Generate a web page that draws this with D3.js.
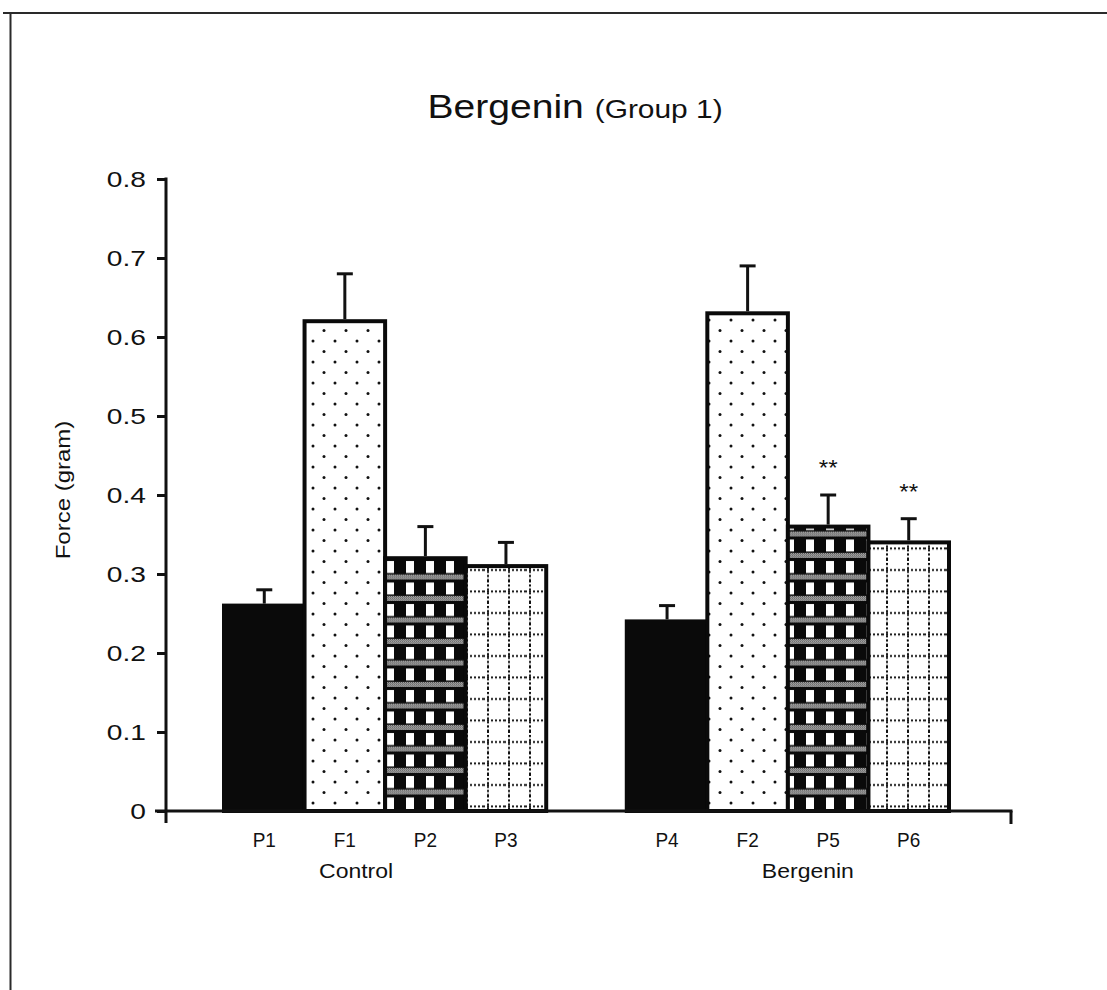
<!DOCTYPE html>
<html>
<head>
<meta charset="utf-8">
<script src="https://cdn.jsdelivr.net/npm/d3@7"></script>
<style>
  html, body { margin: 0; padding: 0; background: #fff; }
  svg { display: block; font-family: "Liberation Sans", Arial, Helvetica, sans-serif; }
</style>
</head>
<body>
<svg id="chart" width="1107" height="990"></svg>
<script>
// Contraction force per period, two treatment groups
const categories = ["P1", "F1", "P2", "P3", "P4", "F2", "P5", "P6"];
const groupOf = [0, 0, 0, 0, 1, 1, 1, 1];
const groups = ["Control", "Bergenin"];
const means = [0.26, 0.62, 0.32, 0.31, 0.24, 0.63, 0.36, 0.34];
const sems = [0.02, 0.06, 0.04, 0.03, 0.02, 0.06, 0.04, 0.03];
const marks = ["", "", "", "", "", "", "**", "**"];
const fills = ["solid", "dots", "check", "grid", "solid", "dots", "check", "grid"];
const yTicks = [0, 0.1, 0.2, 0.3, 0.4, 0.5, 0.6, 0.7, 0.8];

const svg = d3.select("#chart");
const ink = "#111";

// Text helper: places a label and widens it horizontally by sx
function label(parent, x, y, str, size, sx, anchor, rotate) {
  const g = parent.append("g")
    .attr("transform", `translate(${x},${y})${rotate ? ` rotate(${rotate})` : ""} scale(${sx},1)`);
  return g.append("text")
    .attr("text-anchor", anchor || "middle")
    .attr("font-size", size)
    .attr("fill", ink)
    .text(str);
}

// Page frame (top and left rules)
svg.append("line").attr("x1", 3).attr("x2", 1107).attr("y1", 13).attr("y2", 13)
  .attr("stroke", "#2a2a2a").attr("stroke-width", 2);
svg.append("line").attr("x1", 10.5).attr("x2", 10.5).attr("y1", 13).attr("y2", 990)
  .attr("stroke", "#2a2a2a").attr("stroke-width", 2);

// Hatch patterns
const defs = svg.append("defs");

const dither = defs.append("pattern").attr("id", "dither")
  .attr("patternUnits", "userSpaceOnUse").attr("width", 2).attr("height", 2);
dither.append("rect").attr("width", 2).attr("height", 2).attr("fill", "#fff");
dither.append("rect").attr("x", 0).attr("y", 0).attr("width", 1).attr("height", 1).attr("fill", "#111");
dither.append("rect").attr("x", 1).attr("y", 1).attr("width", 1).attr("height", 1).attr("fill", "#111");

const dots = defs.append("pattern").attr("id", "dots")
  .attr("patternUnits", "userSpaceOnUse").attr("width", 22).attr("height", 21);
dots.append("rect").attr("width", 22).attr("height", 21).attr("fill", "#fff");
dots.append("circle").attr("cx", 5).attr("cy", 5).attr("r", 1.5).attr("fill", "#111");
dots.append("circle").attr("cx", 16).attr("cy", 15.5).attr("r", 1.5).attr("fill", "#111");

const check = defs.append("pattern").attr("id", "check")
  .attr("patternUnits", "userSpaceOnUse").attr("width", 20).attr("height", 21.5);
check.append("rect").attr("width", 20).attr("height", 21.5).attr("fill", "#0a0a0a");
check.append("rect").attr("x", 6).attr("y", 2).attr("width", 8).attr("height", 12).attr("fill", "#fff");
check.append("rect").attr("x", 0).attr("y", 15.5).attr("width", 20).attr("height", 5).attr("fill", "url(#dither)");

const grid = defs.append("pattern").attr("id", "grid")
  .attr("patternUnits", "userSpaceOnUse").attr("width", 21).attr("height", 21.5);
grid.append("rect").attr("width", 21).attr("height", 21.5).attr("fill", "#fff");
grid.append("line").attr("x1", 5).attr("x2", 5).attr("y1", 0).attr("y2", 21.5)
  .attr("stroke", "#111").attr("stroke-width", 2).attr("stroke-dasharray", "2,2");
grid.append("line").attr("x1", 0).attr("x2", 21).attr("y1", 11).attr("y2", 11)
  .attr("stroke", "#111").attr("stroke-width", 2).attr("stroke-dasharray", "2,2");

// Scales: eight bar slots with one empty slot between the two groups
const slot = (i) => i + groupOf[i];
const x = d3.scaleLinear().domain([0, 9]).range([224, 949]);
const bw = x(1) - x(0);
const y = d3.scaleLinear().domain([0, 0.8]).range([811, 179]);

const axisLeft = 166, axisRight = 1011;

// Bars
svg.append("g").selectAll("rect").data(means).join("rect")
  .attr("x", (d, i) => x(slot(i)))
  .attr("y", d => y(d))
  .attr("width", bw)
  .attr("height", d => y(0) - y(d))
  .attr("fill", (d, i) => fills[i] === "solid" ? "#0a0a0a" : `url(#${fills[i]})`)
  .attr("stroke", "#0a0a0a")
  .attr("stroke-width", 4);

// Error bars (upper only)
const eb = svg.append("g").attr("stroke", ink).attr("stroke-width", 3);
means.forEach((m, i) => {
  const cx = x(slot(i)) + bw / 2;
  eb.append("line").attr("x1", cx).attr("x2", cx).attr("y1", y(m) - 2).attr("y2", y(m + sems[i]));
  eb.append("line").attr("x1", cx - 8).attr("x2", cx + 8).attr("y1", y(m + sems[i])).attr("y2", y(m + sems[i]));
});

// Significance marks
const sig = svg.append("g");
marks.forEach((mk, i) => {
  if (!mk) return;
  label(sig, x(slot(i)) + bw / 2, y(means[i] + sems[i]) - 20, mk, 22, 1.1);
});

// Y axis
const yAxis = d3.axisLeft(y).tickValues(yTicks).tickSize(9).tickFormat(() => "");
const gy = svg.append("g").attr("transform", `translate(${axisLeft},0)`).call(yAxis);
gy.select(".domain").remove();
gy.selectAll(".tick line").attr("stroke", ink).attr("stroke-width", 3);
const tickLabels = svg.append("g");
yTicks.forEach(t => {
  label(tickLabels, 146, y(t) + 8, t === 0 ? "0" : d3.format(".1f")(t), 22, 1.28, "end");
});
svg.append("line").attr("x1", axisLeft).attr("x2", axisLeft).attr("y1", y(0.8) - 1.5).attr("y2", y(0) + 12)
  .attr("stroke", ink).attr("stroke-width", 3);

// X axis baseline with end ticks
svg.append("line").attr("x1", 155).attr("x2", axisRight + 1.5).attr("y1", y(0)).attr("y2", y(0))
  .attr("stroke", ink).attr("stroke-width", 3);
svg.append("line").attr("x1", axisRight).attr("x2", axisRight).attr("y1", y(0)).attr("y2", y(0) + 13)
  .attr("stroke", ink).attr("stroke-width", 3);

// Category labels
const catG = svg.append("g");
categories.forEach((c, i) => {
  label(catG, x(slot(i)) + bw / 2, 847, c, 20, 0.95);
});

// Group labels, nudged from each group's centre
const groupShift = [-29, 20];
const groupG = svg.append("g");
groups.forEach((g, gi) => {
  const idx = categories.map((c, i) => i).filter(i => groupOf[i] === gi);
  const centre = (x(slot(idx[0])) + x(slot(idx[idx.length - 1])) + bw) / 2;
  label(groupG, centre + groupShift[gi], 878, g, 20, 1.15);
});

// Axis title
label(svg, 70, 490, "Force (gram)", 20, 1.2, "middle", -90);

// Chart title
const tg = svg.append("g").attr("transform", "translate(575,118) scale(1.15,1)");
const title = tg.append("text").attr("text-anchor", "middle").attr("fill", ink);
title.append("tspan").attr("font-size", 34).text("Bergenin ");
title.append("tspan").attr("font-size", 26).text("(Group 1)");
</script>
</body>
</html>
